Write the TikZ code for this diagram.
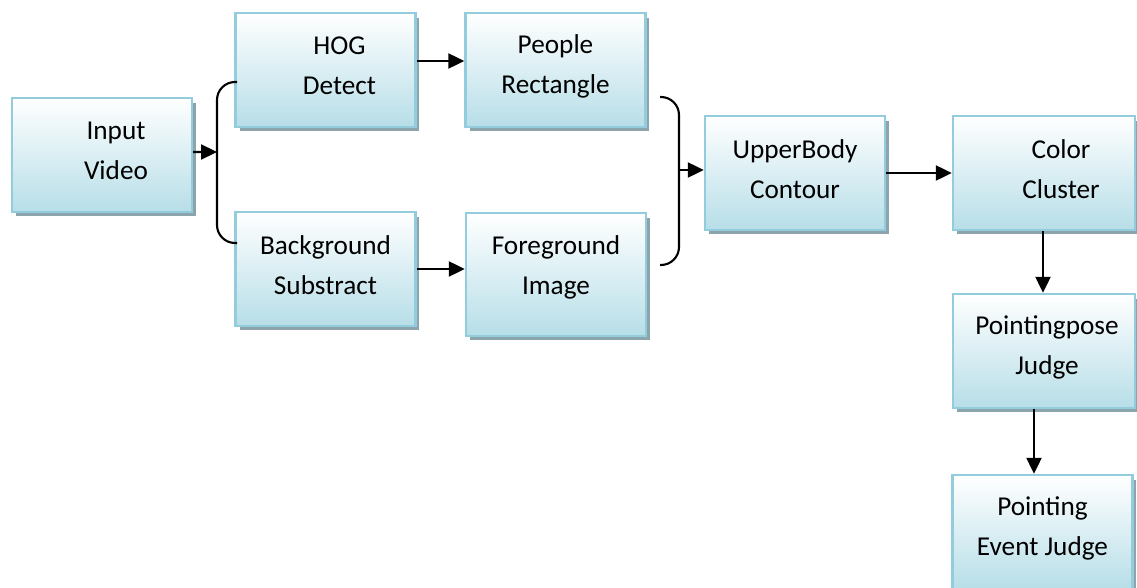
\documentclass[tikz,border=0pt]{standalone}
\usepackage{fontspec}
\setmainfont{Carlito}
\usetikzlibrary{arrows.meta,shadows,positioning}
\definecolor{boxline}{RGB}{147,205,221}
\definecolor{boxfill}{RGB}{183,222,232}
\definecolor{boxshadow}{RGB}{140,165,173}

\tikzset{
  stage/.style={draw=boxline, line width=1.4pt, top color=white, bottom color=boxfill,
    minimum width=3.6cm, minimum height=2.28cm, inner sep=0pt,
    drop shadow={shadow xshift=0.08cm, shadow yshift=-0.09cm, fill=boxshadow, opacity=1}},
  caption/.style={align=center, font=\fontsize{15.5}{22.8}\selectfont, yshift=0.08cm},
  flow/.style={-{Triangle[length=0.32cm,width=0.3cm]}, line width=1.3pt},
  brace/.style={line width=1.2pt, rounded corners=0.36cm},
}

\begin{document}
\begin{tikzpicture}[x=0.02cm,y=-0.02cm]
  \useasboundingbox (0,0) rectangle (1137,588);

  % stages
  \node[stage, label={[caption, xshift=0.28cm]center:Input\\Video}] (input) at (102,155) {};
  \node[stage, label={[caption, xshift=0.28cm]center:HOG\\Detect}] (hog) at (325.5,70) {};
  \node[stage, label={[caption]center:People\\Rectangle}] (people) at (555.5,70) {};
  \node[stage, label={[caption]center:Background\\Substract}] (bgsub) at (325.5,269) {};
  \node[stage, minimum height=2.46cm, label={[caption, yshift=0.06cm]center:Foreground\\Image}] (fgimg) at (556,274.5) {};
  \node[stage, label={[caption]center:UpperBody\\Contour}] (upper) at (795,173) {};
  \node[stage, minimum width=3.64cm, label={[caption, xshift=0.34cm]center:Color\\Cluster}] (color) at (1044,173) {};
  \node[stage, minimum width=3.64cm, label={[caption, xshift=0.06cm]center:Pointingpose\\Judge}] (pose) at (1044,351) {};
  \node[stage, label={[caption]center:Pointing\\Event Judge}] (event) at (1042.5,532) {};

  % braces
  \coordinate (lbr) at (217,152);
  \coordinate (rbr) at (679,170);
  \draw[brace] (237,82) -- (217,82) -- (217,243) -- (237,243);
  \draw[brace] (660,97) -- (679,97) -- (679,265) -- (660,265);

  % connectors
  \draw[flow] ([yshift=0.06cm]input.east) -- (lbr);
  \draw[flow] ([yshift=0.18cm]hog.east) -- ([yshift=0.18cm]people.west);
  \draw[flow] (bgsub.east) -- (bgsub.east -| fgimg.west);
  \draw[flow] (rbr) -- (upper.west |- rbr);
  \draw[flow] (upper) -- (color);
  \draw[flow] ([xshift=-0.02cm]color.south) -- ([xshift=-0.02cm]pose.north);
  \draw[flow] ([xshift=-0.2cm]pose.south) -- ([xshift=-0.2cm]pose.south |- event.north);
\end{tikzpicture}
\end{document}
